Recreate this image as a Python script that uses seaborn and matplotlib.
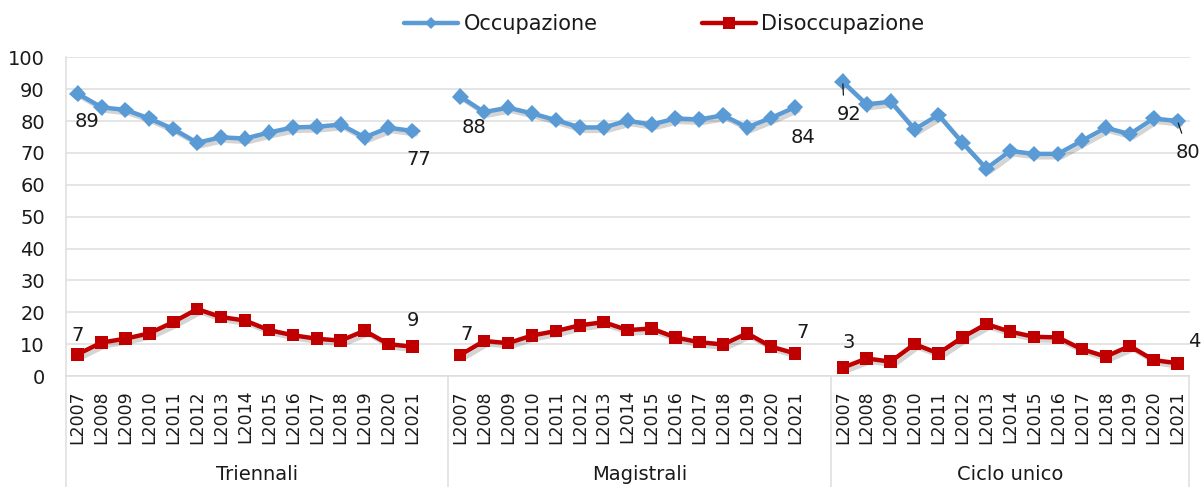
import matplotlib
matplotlib.use("Agg")
import matplotlib.pyplot as plt
import matplotlib.patheffects as pe
import matplotlib.transforms as mtrans
from matplotlib.lines import Line2D
import numpy as np
import pandas as pd
import seaborn as sns

# ---------------- data ----------------
years = ["L2007", "L2008", "L2009", "L2010", "L2011", "L2012", "L2013", "L2014",
         "L2015", "L2016", "L2017", "L2018", "L2019", "L2020", "L2021"]
groups = ["Triennali", "Magistrali", "Ciclo unico"]

occ_triennali = [88.6, 84.3, 83.5, 80.8, 77.5, 73.2, 74.9, 74.5, 76.4, 78.0, 78.2, 78.9, 74.9, 77.9, 76.9]
dis_triennali = [6.8, 10.5, 11.7, 13.4, 16.9, 21.0, 18.5, 17.4, 14.4, 12.8, 11.7, 11.1, 14.2, 10.0, 9.2]
occ_magistrali = [87.7, 82.8, 84.2, 82.4, 80.3, 78.0, 78.0, 80.1, 78.9, 80.8, 80.5, 81.8, 78.0, 81.0, 84.3]
dis_magistrali = [6.6, 11.0, 10.3, 12.7, 14.1, 15.9, 16.9, 14.4, 14.9, 12.1, 10.6, 9.9, 13.4, 9.2, 7.1]
occ_ciclo = [92.3, 85.2, 86.1, 77.4, 81.9, 73.2, 65.1, 70.6, 69.7, 69.7, 73.8, 77.9, 75.9, 80.8, 80.0]
dis_ciclo = [2.6, 5.5, 4.5, 10.0, 7.1, 12.1, 16.3, 13.9, 12.3, 12.1, 8.4, 6.1, 9.4, 5.0, 4.0]

series_names = ["Occupazione", "Disoccupazione"]
occ = [occ_triennali, occ_magistrali, occ_ciclo]
dis = [dis_triennali, dis_magistrali, dis_ciclo]

# ---------------- long table ----------------
slot = len(years) + 1  # one empty category between groups
rows = []
for g, name in enumerate(groups):
    for i, y in enumerate(years):
        pos = g * slot + i
        rows.append(dict(group=name, year=y, pos=pos, series="Occupazione", value=occ[g][i]))
        rows.append(dict(group=name, year=y, pos=pos, series="Disoccupazione", value=dis[g][i]))
df = pd.DataFrame(rows)

# ---------------- style ----------------
sns.set_style("white")
plt.rcParams["font.family"] = ["DejaVu Sans"]
TXT = "#1a1a1a"
GRID = "#dedede"
BLUE = "#5b9bd5"
RED = "#c00000"

fig = plt.figure(figsize=(12.01, 4.87), dpi=100)
ax = fig.add_axes([65.7 / 1201, 1 - 376 / 487, (1189.5 - 65.7) / 1201, (376 - 57.3) / 487])

shadow = [pe.SimpleLineShadow(offset=(2.5, -2.5), shadow_color="k", alpha=0.17), pe.Normal()]

styles = {
    "Occupazione": dict(color=BLUE, marker="D", ms=8.5),
    "Disoccupazione": dict(color=RED, marker="s", ms=9),
}
for s in series_names:
    st = styles[s]
    sns.lineplot(data=df[df.series == s], x="pos", y="value", units="group", estimator=None,
                 color=st["color"], marker=st["marker"], markersize=st["ms"],
                 markeredgewidth=0, linewidth=3.2, legend=False, ax=ax,
                 path_effects=shadow, zorder=3)

# axes limits and grid
n_total = slot * len(groups) - 1
ax.set_xlim(-0.5, n_total - 0.5)
ax.set_ylim(0, 100)
ax.set_yticks(np.arange(0, 101, 10))
ax.yaxis.grid(True, color=GRID, linewidth=1.1)
ax.set_axisbelow(True)
for sp in ["top", "right"]:
    ax.spines[sp].set_visible(False)
for sp in ["left", "bottom"]:
    ax.spines[sp].set_color(GRID)
    ax.spines[sp].set_linewidth(1.1)
ax.set_xlabel("")
ax.set_ylabel("")
ax.tick_params(axis="y", length=5, width=1.1, color=GRID, pad=10, labelsize=14, labelcolor=TXT)

# x tick labels (years) at category centres
positions = df[df.series == "Occupazione"]["pos"].tolist()
labels = df[df.series == "Occupazione"]["year"].tolist()
ax.set_xticks(positions)
ax.set_xticklabels(labels, rotation=90, fontsize=12.5, color=TXT)
ax.tick_params(axis="x", which="major", length=0, pad=10)
# separators between categories
ax.set_xticks(np.arange(-0.5, n_total, 1.0), minor=True)
ax.tick_params(axis="x", which="minor", length=53, width=1.1, color=GRID)

# group separators and group labels
trans = mtrans.blended_transform_factory(ax.transData, ax.transAxes)
for g in range(len(groups) + 1):
    xs = g * slot - 0.5 if g < len(groups) else n_total - 0.5
    ax.plot([xs, xs], [0, -0.36], transform=trans, color=GRID, lw=1.1, clip_on=False)
for g, name in enumerate(groups):
    centre = g * slot + (len(years) - 1) / 2 + (0.5 if g < len(groups) - 1 else 0)
    ax.text(centre, -0.31, name, transform=trans, ha="center", va="center",
            fontsize=14, color=TXT)

# data labels (first and last value of each series per group)
offsets = {
    ("Occupazione", 0): [(9, -28), (6, -28.5)],
    ("Disoccupazione", 0): [(0, 19), (1, 26)],
    ("Occupazione", 1): [(13.5, -31), (8.5, -30)],
    ("Disoccupazione", 1): [(6, 20.5), (8, 21)],
    ("Occupazione", 2): [(6, -33), (10, -31.5)],
    ("Disoccupazione", 2): [(6, 25), (17, 22)],
}
for (s, g), offs in offsets.items():
    vals = occ[g] if s == "Occupazione" else dis[g]
    for k, idx in enumerate([0, len(years) - 1]):
        v = vals[idx]
        kw = {}
        if s == "Occupazione" and g == 2:
            kw["arrowprops"] = dict(arrowstyle="-", color=TXT, lw=0.9,
                                    shrinkA=5, shrinkB=1.5, relpos=(0.3 if k == 0 else 0.4, 1.0))
        ax.annotate(f"{v:.0f}", xy=(g * slot + idx, v), xytext=offs[k],
                    textcoords="offset pixels", ha="center", va="center",
                    fontsize=14, color=TXT, annotation_clip=False, **kw)

# legend
handles = [Line2D([], [], color=BLUE, marker="D", ms=6, lw=3.2, markeredgewidth=0),
           Line2D([], [], color=RED, marker="s", ms=8, lw=3.2, markeredgewidth=0)]
fig.legend(handles, series_names, loc="center", bbox_to_anchor=(0.553, 1 - 24 / 487),
           ncol=2, frameon=False, fontsize=15, handlelength=2.6, handletextpad=0.25,
           columnspacing=5.0, labelcolor=TXT)

fig.savefig("out.png", dpi=100)
